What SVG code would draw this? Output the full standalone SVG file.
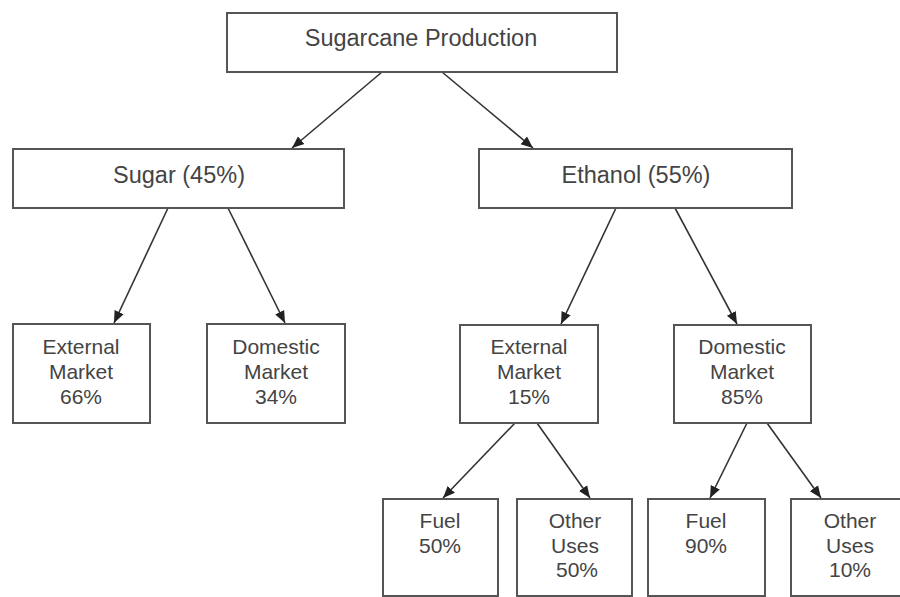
<svg xmlns="http://www.w3.org/2000/svg" width="900" height="597" viewBox="0 0 900 597">
<style>
.box{fill:#fff;stroke:#555;stroke-width:2}
.t{font-family:"Liberation Sans",Arial,sans-serif;font-size:21px;fill:#444;text-anchor:middle}
.big{font-size:23.5px}
.c{stroke:#333;stroke-width:1.6;fill:none;marker-end:url(#ah)}
</style>
<defs>
<marker id="ah" markerUnits="userSpaceOnUse" markerWidth="14" markerHeight="12" refX="12" refY="6" orient="auto">
<path d="M0,1 L12,6 L0,11 Z" fill="#222"/>
</marker>
</defs>
<rect width="900" height="597" fill="#fff"/>
<g id="connectors">
<line class="c" x1="382" y1="72" x2="292" y2="148"/>
<line class="c" x1="442" y1="72" x2="533" y2="148"/>
<line class="c" x1="168" y1="208" x2="114" y2="323"/>
<line class="c" x1="228" y1="208" x2="285" y2="323"/>
<line class="c" x1="616" y1="208" x2="561" y2="324"/>
<line class="c" x1="675" y1="208" x2="737" y2="324"/>
<line class="c" x1="515" y1="423" x2="443" y2="498"/>
<line class="c" x1="537" y1="423" x2="590" y2="498"/>
<line class="c" x1="747" y1="423" x2="710" y2="498"/>
<line class="c" x1="767" y1="423" x2="821" y2="498"/>
</g>
<g id="root">
<rect class="box" x="227" y="13" width="390" height="59"/>
<text class="t big" x="421" y="46">Sugarcane Production</text>
</g>
<g id="sugar">
<rect class="box" x="13" y="149" width="331" height="59"/>
<text class="t big" x="179" y="183">Sugar (45%)</text>
</g>
<g id="ethanol">
<rect class="box" x="479" y="149" width="313" height="59"/>
<text class="t big" x="636" y="183">Ethanol (55%)</text>
</g>
<g id="sugar-external">
<rect class="box" x="13" y="324" width="137" height="99"/>
<text class="t" x="81" y="354">External</text>
<text class="t" x="81" y="379">Market</text>
<text class="t" x="81" y="404">66%</text>
</g>
<g id="sugar-domestic">
<rect class="box" x="207" y="324" width="138" height="99"/>
<text class="t" x="276" y="354">Domestic</text>
<text class="t" x="276" y="379">Market</text>
<text class="t" x="276" y="404">34%</text>
</g>
<g id="ethanol-external">
<rect class="box" x="460" y="325" width="138" height="98"/>
<text class="t" x="529" y="354">External</text>
<text class="t" x="529" y="379">Market</text>
<text class="t" x="529" y="404">15%</text>
</g>
<g id="ethanol-domestic">
<rect class="box" x="674" y="325" width="137" height="98"/>
<text class="t" x="742" y="354">Domestic</text>
<text class="t" x="742" y="379">Market</text>
<text class="t" x="742" y="404">85%</text>
</g>
<g id="ext-fuel">
<rect class="box" x="383" y="499" width="115" height="97"/>
<text class="t" x="440" y="528">Fuel</text>
<text class="t" x="440" y="553">50%</text>
</g>
<g id="ext-other">
<rect class="box" x="517" y="499" width="115" height="97"/>
<text class="t" x="575" y="528">Other</text>
<text class="t" x="575" y="553">Uses</text>
<text class="t" x="577" y="577">50%</text>
</g>
<g id="dom-fuel">
<rect class="box" x="648" y="499" width="117" height="97"/>
<text class="t" x="706" y="528">Fuel</text>
<text class="t" x="706" y="553">90%</text>
</g>
<g id="dom-other">
<rect class="box" x="791" y="499" width="120" height="97"/>
<text class="t" x="850" y="528">Other</text>
<text class="t" x="850" y="553">Uses</text>
<text class="t" x="850" y="577">10%</text>
</g>
</svg>
